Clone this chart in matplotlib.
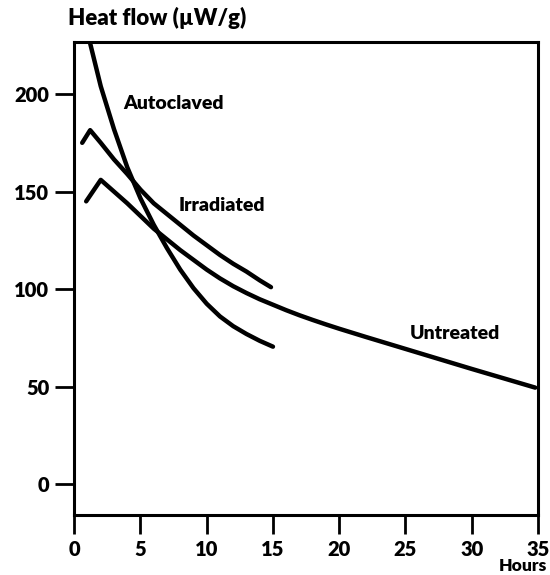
import matplotlib.pyplot as plt

# values (hours, heat flow in uW/g)
autoclaved_x = [1.2, 2, 3, 4, 5, 6, 7, 8, 9, 10, 11, 12, 13, 14, 15]
autoclaved_y = [226, 204, 182, 162.5, 146.5, 133, 121, 110, 100.5, 92.5, 86, 81, 77, 73.5, 70.5]

irradiated_x = [0.6, 1.2, 2, 3, 4, 5, 6, 7, 8, 9, 10, 11, 12, 13, 14, 14.85]
irradiated_y = [175, 181.5, 175, 166.5, 159, 151, 144, 138.5, 133, 127.5, 122.5, 117.5, 113, 109, 104.5, 101]

untreated_x = [0.9, 2, 3, 4, 5, 6, 7, 8, 9, 10, 11, 12, 13, 14, 15, 16, 17, 18, 19, 20,
               22, 24, 26, 28, 30, 32, 34, 34.8]
untreated_y = [145, 156, 150, 144, 137.5, 131, 125.5, 120, 115, 110, 105.5, 101.5, 98, 94.8,
               92, 89.2, 86.6, 84.2, 81.9, 79.7, 75.5, 71.4, 67.3, 63.2, 59.1, 55.1, 51.1, 49.5]

xticks = [0, 5, 10, 15, 20, 25, 30, 35]
yticks = [0, 50, 100, 150, 200]

plt.rcParams['font.family'] = ['Lato', 'DejaVu Sans']

fig = plt.figure(figsize=(5.5, 5.75), dpi=100)
ax = fig.add_axes([0.135, 0.104, 0.843, 0.823])

lw = 3.2
for xs, ys in [(autoclaved_x, autoclaved_y), (irradiated_x, irradiated_y), (untreated_x, untreated_y)]:
    ax.plot(xs, ys, color='black', lw=lw, solid_capstyle='round', solid_joinstyle='round')

ax.text(3.7, 195, 'Autoclaved', fontsize=14, fontweight='heavy', va='center', ha='left')
ax.text(7.9, 143, 'Irradiated', fontsize=14, fontweight='heavy', va='center', ha='left')
ax.text(25.3, 77, 'Untreated', fontsize=14, fontweight='heavy', va='center', ha='left')

ax.set_xlim(0, 35)
ax.set_ylim(-15.9, 226.7)
ax.set_xticks(xticks)
ax.set_yticks(yticks)
ax.tick_params(direction='out', length=14, width=2, labelsize=14.5, pad=4)
for lab in ax.get_xticklabels() + ax.get_yticklabels():
    lab.set_fontweight('heavy')
for sp in ax.spines.values():
    sp.set_linewidth(2.2)

fig.text(68 / 550, 1 - 18 / 575, 'Heat flow (\u00b5W/g)', fontsize=16, fontweight='heavy',
         ha='left', va='center')
fig.text(547 / 550, 1 - 566 / 575, 'Hours', fontsize=12.5, fontweight='heavy', ha='right', va='center')

fig.savefig('out.png', dpi=100)
